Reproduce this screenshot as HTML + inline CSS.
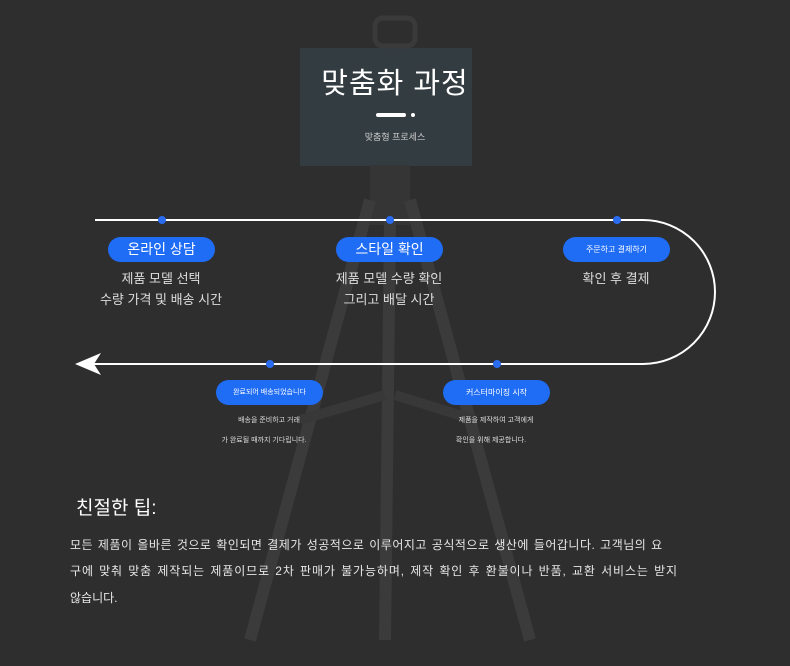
<!DOCTYPE html>
<html><head><meta charset="utf-8"><style>
body{margin:0;width:790px;height:666px;background:#2e2e2f;overflow:hidden;position:relative;font-family:"Liberation Sans","Noto Sans CJK KR",sans-serif;color:#fff}
.a{position:absolute;white-space:nowrap}
.pill{position:absolute;width:107px;height:25px;border-radius:13px;background:#1f6cf5;color:#fff;text-align:center;line-height:25px;font-size:14px}
.pill.s{font-size:8px}
.t{position:absolute;text-align:center;color:#ddd;font-size:13px;width:200px}
.ts{position:absolute;text-align:center;color:#ddd;font-size:7px;width:160px}
</style></head><body>
<svg class="a" style="left:0;top:0" width="790" height="666">
 <rect x="300" y="48" width="172" height="118" fill="#333c41"/>
 <rect x="375" y="18" width="40" height="28" rx="8" fill="none" stroke="#3a3a3a" stroke-width="5"/>
 <rect x="370" y="165" width="40" height="60" fill="#353535"/>
 <g stroke="#3b3b3b" stroke-width="12" fill="none">
  <line x1="370" y1="200" x2="250" y2="640"/>
  <line x1="410" y1="200" x2="530" y2="640"/>
  <line x1="390" y1="220" x2="385" y2="640"/>
 </g>
 <g stroke="#383838" stroke-width="10"><line x1="300" y1="420" x2="385" y2="395"/><line x1="475" y1="420" x2="395" y2="395"/></g>
 <path d="M95 220 H643 A72 72 0 0 1 643 364 H90" fill="none" stroke="#fff" stroke-width="2"/>
 <path d="M75 364 L101 353 L94 364 L101 375 Z" fill="#fff"/>
 <g fill="#2a6cf0"><circle cx="162" cy="220" r="4"/><circle cx="390" cy="220" r="4"/><circle cx="617" cy="220" r="4"/><circle cx="497" cy="364" r="4"/><circle cx="270" cy="364" r="4"/></g>
 <rect x="376" y="113" width="30" height="4" rx="2" fill="#fff"/><circle cx="413" cy="115" r="2" fill="#fff"/>
</svg>
<div class="a" style="left:0;width:790px;top:60px;text-align:center;font-size:29px;letter-spacing:1px">맞춤화 과정</div>
<div class="a" style="left:0;width:790px;top:130px;text-align:center;font-size:9px;color:#ccc">맞춤형 프로세스</div>
<div class="pill" style="left:108px;top:237px">온라인 상담</div>
<div class="pill" style="left:336px;top:237px">스타일 확인</div>
<div class="pill s" style="left:563px;top:237px">주문하고 결제하기</div>
<div class="t" style="left:61px;top:268px">제품 모델 선택</div>
<div class="t" style="left:61px;top:289px">수량 가격 및 배송 시간</div>
<div class="t" style="left:289px;top:268px">제품 모델 수량 확인</div>
<div class="t" style="left:289px;top:289px">그리고 배달 시간</div>
<div class="t" style="left:516px;top:268px">확인 후 결제</div>
<div class="pill s" style="left:216px;top:380px;font-size:7px">완료되어 배송되었습니다</div>
<div class="pill s" style="left:443px;top:380px">커스터마이징 시작</div>
<div class="ts" style="left:189px;top:415px">배송을 준비하고 거래</div>
<div class="ts" style="left:184px;top:435px">가 완료될 때까지 기다립니다.</div>
<div class="ts" style="left:416px;top:415px">제품을 제작하여 고객에게</div>
<div class="ts" style="left:411px;top:435px">확인을 위해 제공합니다.</div>
<div class="a" style="left:76px;top:493px;font-size:19px">친절한 팁:</div>
<div class="a" style="left:70px;top:536px;font-size:12px;letter-spacing:0.5px;word-spacing:1px;color:#e6e6e6">모든 제품이 올바른 것으로 확인되면 결제가 성공적으로 이루어지고 공식적으로 생산에 들어갑니다. 고객님의 요</div>
<div class="a" style="left:70px;top:562px;font-size:12px;letter-spacing:0.9px;word-spacing:1px;color:#e6e6e6">구에 맞춰 맞춤 제작되는 제품이므로 2차 판매가 불가능하며, 제작 확인 후 환불이나 반품, 교환 서비스는 받지</div>
<div class="a" style="left:70px;top:589px;font-size:12px;color:#e6e6e6">않습니다.</div>
</body></html>
